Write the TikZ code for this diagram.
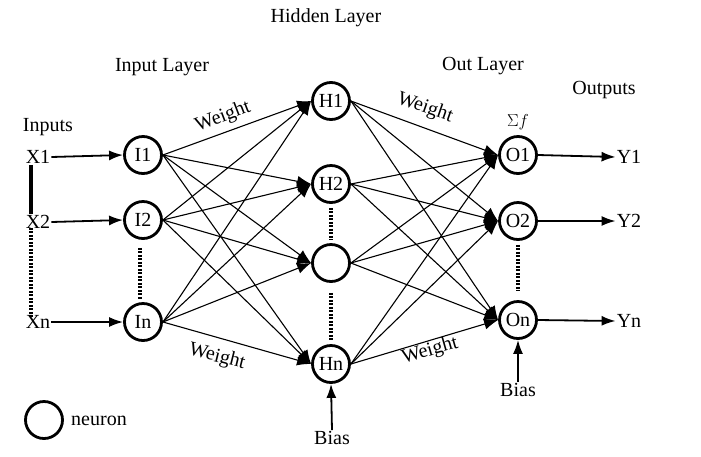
\documentclass[tikz,border=0pt]{standalone}
\usepackage{fontspec}
\setmainfont{Liberation Serif}
\usetikzlibrary{arrows.meta}
\begin{document}
\begin{tikzpicture}[x=1pt,y=-1pt,
  neuron/.style={circle,draw,line width=2.8pt,minimum size=37pt,inner sep=0pt,font=\fontsize{20}{23}\selectfont},
  lbl/.style={inner sep=1pt,font=\fontsize{20}{23}\selectfont},
  conn/.style={line width=1.1pt,-{Latex[length=14pt,width=11pt]}},
  io/.style={line width=1.8pt,-{Latex[length=14pt,width=10pt]}},
  dotline/.style={line width=3.2pt,dash pattern=on 2pt off 1.5pt},
]
\useasboundingbox (0,0) rectangle (701,456);
% neurons
\node[neuron] (I1) at (143,155) {I1};
\node[neuron] (I2) at (143,220) {I2};
\node[neuron] (In) at (143,322) {In};
\node[neuron] (H1) at (331,101) {H1};
\node[neuron] (H2) at (331,184) {H2};
\node[neuron] (H3) at (331,263) {};
\node[neuron] (Hn) at (331,364) {Hn};
\node[neuron] (O1) at (518,155) {O1};
\node[neuron] (O2) at (518,221) {O2};
\node[neuron] (On) at (518,320) {On};
% labels
\node[lbl] at (326,18) {Hidden Layer};
\node[lbl] at (162,67) {Input Layer};
\node[lbl] at (483,66) {Out Layer};
\node[lbl] at (604,90) {Outputs};
\node[lbl] at (48,127) {Inputs};
\node[lbl] (X1) at (38,157) {X1};
\node[lbl] (X2) at (38,222) {X2};
\node[lbl] (Xn) at (38,322) {Xn};
\node[lbl] (Y1) at (629,157) {Y1};
\node[lbl] (Y2) at (629,221) {Y2};
\node[lbl] (Yn) at (629,321) {Yn};
\node[lbl,font=\fontsize{19}{22}\selectfont] at (518,122) {$\Sigma f$};
\node[lbl] (B1) at (332,438) {Bias};
\node[lbl] (B2) at (518,390) {Bias};
% weight labels
\node[lbl,rotate=21] at (223,117) {Weight};
\node[lbl,rotate=-19] at (425,108) {Weight};
\node[lbl,rotate=-14] at (217,357) {Weight};
\node[lbl,rotate=16] at (430,351) {Weight};
% legend
\node[neuron] (L) at (44,420) {};
\node[lbl] at (99,421) {neuron};
% connections
\foreach \i in {I1,I2,In}
  \foreach \h in {H1,H2,H3,Hn}
    \draw[conn] (\i.east) -- (\h.west);
\foreach \h in {H1,H2,H3,Hn}
  \foreach \o in {O1,O2,On}
    \draw[conn] (\h.east) -- (\o.west);
% input/output arrows
\draw[io] (X1.east) -- (I1.west);
\draw[io] (X2.east) -- (I2.west);
\draw[io] (Xn.east) -- (In.west);
\draw[io] (O1.east) -- (Y1.west);
\draw[io] (O2.east) -- (Y2.west);
\draw[io] (On.east) -- (Yn.west);
\draw[io] (B1.north) -- (Hn.south);
\draw[io] (B2.north) -- (On.south);
% vertical links
\draw[line width=4pt] ([xshift=-7pt]X1.south) -- ([xshift=-7pt]X2.north);
\draw[dotline] ([xshift=-7pt,yshift=2pt]X2.south) -- ([xshift=-7pt,yshift=-4pt]Xn.north);
\draw[dotline,shorten <=8pt,shorten >=3pt] ([xshift=-3pt]I2.south) -- ([xshift=-3pt]In.north);
\draw[dotline,shorten <=4pt,shorten >=3pt] (H2.south) -- (H3.north);
\draw[dotline,shorten <=10pt,shorten >=4pt] (H3.south) -- (Hn.north);
\draw[dotline,shorten <=4pt,shorten >=9pt] (O2.south) -- (On.north);
\end{tikzpicture}
\end{document}
